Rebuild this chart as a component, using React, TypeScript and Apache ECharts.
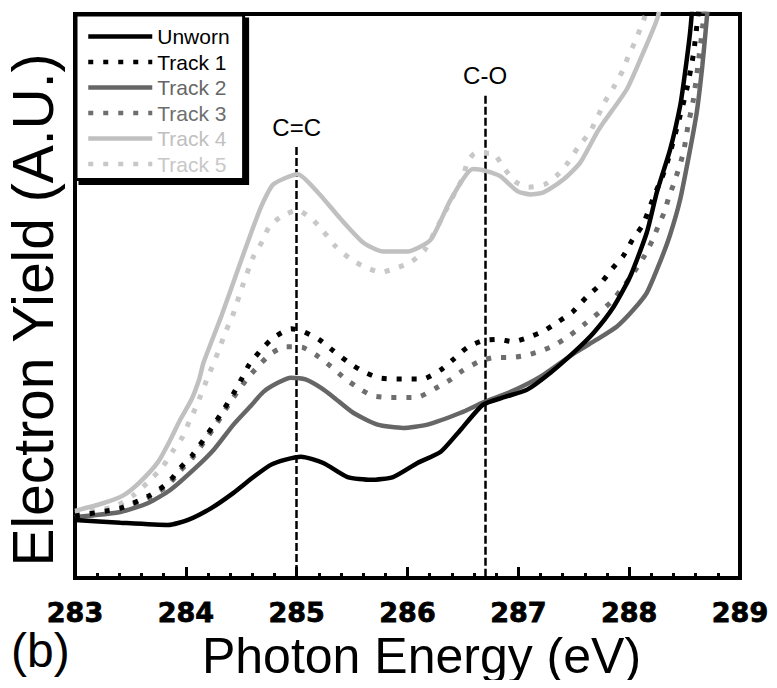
import React, { useEffect, useRef } from "react";
import * as echarts from "echarts";

const xTicks = [283, 284, 285, 286, 287, 288, 289];
const seriesNames = ["Unworn", "Track 1", "Track 2", "Track 3", "Track 4", "Track 5"];
const seriesColors = ["#000000", "#000000", "#666666", "#6e6e6e", "#c0c0c0", "#c8c8c8"];
const seriesDotted = [false, true, false, true, false, true];

const unworn = [
  [283.0, 10.3], [283.41, 9.8], [283.84, 9.4], [284.02, 10.3], [284.23, 12.4], [284.43, 15.1],
  [284.61, 17.9], [284.77, 20.1], [284.9, 21.0], [285.04, 21.5], [285.24, 20.4], [285.46, 17.9],
  [285.67, 17.4], [285.87, 17.9], [286.09, 20.4], [286.3, 22.4], [286.48, 26.3], [286.68, 30.7],
  [286.88, 32.1], [287.08, 33.4], [287.29, 36.4], [287.5, 40.0], [287.68, 43.5], [287.86, 48.1],
  [288.01, 53.5], [288.16, 61.3], [288.25, 68.4], [288.37, 76.0], [288.46, 83.7], [288.5, 89.0],
  [288.55, 96.8], [288.59, 106]
];
const track1 = [
  [283.0, 11.0], [283.41, 12.4], [283.68, 14.7], [283.84, 16.9], [283.95, 19.5], [284.06, 21.8],
  [284.16, 24.5], [284.26, 27.4], [284.34, 29.8], [284.43, 32.7], [284.5, 35.2], [284.57, 37.8],
  [284.69, 40.7], [284.79, 42.6], [284.95, 44.2], [285.06, 43.7], [285.2, 42.3], [285.33, 40.3],
  [285.47, 38.2], [285.6, 36.6], [285.74, 35.5], [285.87, 35.3], [286.01, 35.3], [286.14, 35.3],
  [286.3, 36.9], [286.41, 38.7], [286.54, 40.9], [286.68, 42.1], [286.82, 42.3], [286.95, 41.9],
  [287.08, 42.6], [287.22, 43.7], [287.35, 45.3], [287.49, 47.2], [287.61, 49.7], [287.73, 51.9],
  [287.85, 54.9], [287.95, 57.2], [288.03, 60.0], [288.12, 62.5], [288.18, 65.4], [288.23, 68.0],
  [288.29, 70.7], [288.34, 73.4], [288.44, 80.5], [288.52, 86.7], [288.58, 92.9], [288.62, 99.6],
  [288.65, 106]
];
const track2 = [
  [283.0, 10.8], [283.41, 11.7], [283.66, 13.3], [283.86, 15.6], [284.07, 19.2], [284.25, 22.7],
  [284.43, 27.2], [284.59, 30.6], [284.7, 33.0], [284.83, 34.6], [284.95, 35.5], [285.08, 35.2],
  [285.22, 33.7], [285.33, 32.1], [285.51, 29.3], [285.73, 27.2], [285.96, 26.6], [286.18, 27.2],
  [286.48, 29.3], [286.68, 31.1], [286.93, 33.0], [287.2, 35.7], [287.5, 39.8], [287.71, 42.3],
  [287.89, 44.6], [288.04, 47.6], [288.16, 50.6], [288.28, 56.1], [288.37, 60.9], [288.46, 67.1],
  [288.55, 76.0], [288.61, 82.6], [288.66, 90.8], [288.7, 99.1], [288.73, 106]
];
const track3 = [
  [283.0, 10.7], [283.41, 12.1], [283.68, 14.4], [283.84, 16.5], [283.95, 19.0], [284.06, 21.3],
  [284.16, 24.0], [284.26, 26.8], [284.34, 29.3], [284.43, 32.0], [284.54, 35.0], [284.65, 37.5],
  [284.77, 39.8], [284.9, 41.0], [285.05, 40.9], [285.17, 39.6], [285.31, 37.5], [285.44, 35.3],
  [285.58, 33.4], [285.69, 32.3], [285.85, 32.0], [285.96, 32.0], [286.1, 32.1], [286.25, 33.6],
  [286.39, 35.2], [286.5, 36.8], [286.65, 38.4], [286.79, 39.1], [286.93, 39.1], [287.05, 39.4],
  [287.18, 40.1], [287.32, 41.2], [287.45, 42.8], [287.59, 44.9], [287.73, 47.1], [287.84, 49.0],
  [287.95, 51.7], [288.05, 54.4], [288.14, 57.2], [288.21, 59.9], [288.26, 62.3], [288.32, 65.0],
  [288.36, 67.7], [288.41, 70.3], [288.49, 75.5], [288.53, 80.1], [288.58, 84.9], [288.62, 90.8],
  [288.67, 99.1], [288.69, 106]
];
const track4 = [
  [283.0, 11.9], [283.26, 13.3], [283.44, 14.7], [283.59, 17.1], [283.75, 20.6], [283.86, 24.5],
  [283.95, 28.1], [284.05, 31.6], [284.12, 35.2], [284.16, 38.2], [284.32, 46.4], [284.47, 54.7],
  [284.6, 61.8], [284.69, 66.3], [284.79, 69.8], [285.01, 71.6], [285.19, 68.4], [285.4, 63.6],
  [285.6, 59.5], [285.78, 57.9], [286.0, 57.9], [286.21, 60.0], [286.39, 67.1], [286.59, 72.5],
  [286.72, 72.1], [286.84, 71.2], [286.99, 68.6], [287.11, 68.0], [287.23, 68.4], [287.41, 70.7],
  [287.56, 73.7], [287.71, 79.0], [287.77, 80.8], [287.98, 86.7], [288.13, 93.3], [288.26, 99.6],
  [288.3, 106]
];
const track5 = [
  [283.0, 11.5], [283.35, 12.6], [283.53, 14.7], [283.68, 17.4], [283.79, 19.7], [283.89, 22.7],
  [283.97, 25.0], [284.03, 27.7], [284.1, 30.7], [284.2, 35.7], [284.29, 40.0], [284.36, 43.7],
  [284.42, 46.4], [284.51, 51.7], [284.61, 57.0], [284.69, 59.7], [284.75, 62.2], [284.86, 64.1],
  [285.01, 65.2], [285.14, 63.6], [285.24, 61.5], [285.35, 58.8], [285.49, 56.5], [285.62, 55.1],
  [285.76, 54.2], [285.89, 54.9], [286.03, 56.0], [286.16, 58.3], [286.43, 68.4], [286.5, 71.0],
  [286.54, 73.7], [286.61, 75.3], [286.77, 75.3], [286.86, 73.0], [286.97, 70.3], [287.09, 69.3],
  [287.24, 69.8], [287.36, 71.6], [287.45, 73.7], [287.54, 76.4], [287.65, 79.2], [287.78, 84.4],
  [287.86, 87.0], [287.94, 89.9], [287.99, 92.4], [288.05, 95.0], [288.14, 99.5], [288.19, 106]
];
const allData = [unworn, track1, track2, track3, track4, track5];

const peakNames = ["C=C", "C-O"];
const peakX = [285.0, 286.7];
const peakTopY = [76.4, 85.5];

const FONT = "Liberation Sans, Arial, sans-serif";

export default function App() {
  const ref = useRef<HTMLDivElement>(null);
  useEffect(() => {
    if (!ref.current) return;
    const chart = echarts.init(ref.current, null, { renderer: "svg" });
    const series: any[] = seriesNames.map((name, i) => ({
      name,
      type: "line",
      data: allData[i],
      symbol: "none",
      smooth: 0.2,
      clip: true,
      z: 10 - i,
      lineStyle: {
        color: seriesColors[i],
        width: seriesDotted[i] ? 5 : 4.5,
        type: seriesDotted[i] ? [5, 10] : "solid",
        cap: "butt",
      },
      itemStyle: { color: seriesColors[i] },
    }));
    series[0].markLine = {
      silent: true,
      symbol: ["none", "none"],
      lineStyle: { color: "#000", width: 2.5, type: [8, 3] },
      label: {
        show: true,
        position: "start",
        formatter: "{b}",
        fontSize: 24,
        fontFamily: FONT,
        color: "#000",
        distance: 8,
      },
      data: peakNames.map((n, i) => [
        { name: n, coord: [peakX[i], peakTopY[i]] },
        { coord: [peakX[i], 0] },
      ]),
    };
    chart.setOption({
      animation: false,
      backgroundColor: "#fff",
      grid: {
        left: 75,
        right: 37,
        top: 14,
        bottom: 110,
        show: true,
        containLabel: false,
        outerBoundsMode: "none",
        borderColor: "#000",
        borderWidth: 4,
        backgroundColor: "transparent",
      },
      legend: {
        orient: "vertical",
        left: 76,
        top: 15,
        itemWidth: 64,
        itemHeight: 14,
        itemGap: 4.5,
        padding: [11, 14, 5, 10],
        backgroundColor: "#fff",
        borderColor: "#000",
        borderWidth: 3,
        shadowColor: "#000",
        shadowOffsetX: 4,
        shadowOffsetY: 4,
        shadowBlur: 0,
        selectedMode: false,
        itemStyle: { opacity: 0 },
        lineStyle: { width: 4.5 },
        textStyle: { fontSize: 21, fontFamily: FONT },
        data: seriesNames.map((n, i) => ({ name: n, textStyle: { color: seriesColors[i] } })),
      },
      xAxis: {
        type: "value",
        min: 283,
        max: 289,
        interval: 1,
        name: "Photon Energy (eV)",
        nameLocation: "middle",
        nameGap: 42,
        nameTextStyle: { fontSize: 50, color: "#000", fontFamily: FONT, padding: [0, 0, 0, 28] },
        axisLine: { lineStyle: { color: "#000", width: 4 } },
        axisTick: { inside: true, length: 11, lineStyle: { color: "#000", width: 3 } },
        minorTick: { show: true, splitNumber: 5, length: 5, lineStyle: { color: "#000", width: 3 } },
        splitLine: { show: false },
        axisLabel: {
          margin: 21,
          fontSize: 27,
          fontWeight: "bold",
          fontFamily: "DejaVu Sans, sans-serif",
          color: "#000",
          textBorderColor: "#000",
          textBorderWidth: 0.8,
          formatter: (v: number) => (xTicks.includes(v) ? String(v) : ""),
        },
      },
      yAxis: {
        type: "value",
        min: 0,
        max: 100,
        axisLine: { show: false },
        axisTick: { show: false },
        axisLabel: { show: false },
        splitLine: { show: false },
      },
      graphic: [
        {
          type: "text",
          x: 33,
          y: 310,
          rotation: Math.PI / 2,
          style: {
            text: "Electron Yield (A.U.)",
            fontSize: 57,
            fill: "#000",
            fontFamily: FONT,
            align: "center",
            verticalAlign: "middle",
          },
        },
        {
          type: "text",
          left: 11,
          top: 626,
          style: { text: "(b)", fontSize: 48, fill: "#000", fontFamily: FONT },
        },
      ],
      series,
    });
    return () => chart.dispose();
  }, []);
  return <div ref={ref} style={{ width: 777, height: 688, margin: -8 }} />;
}
